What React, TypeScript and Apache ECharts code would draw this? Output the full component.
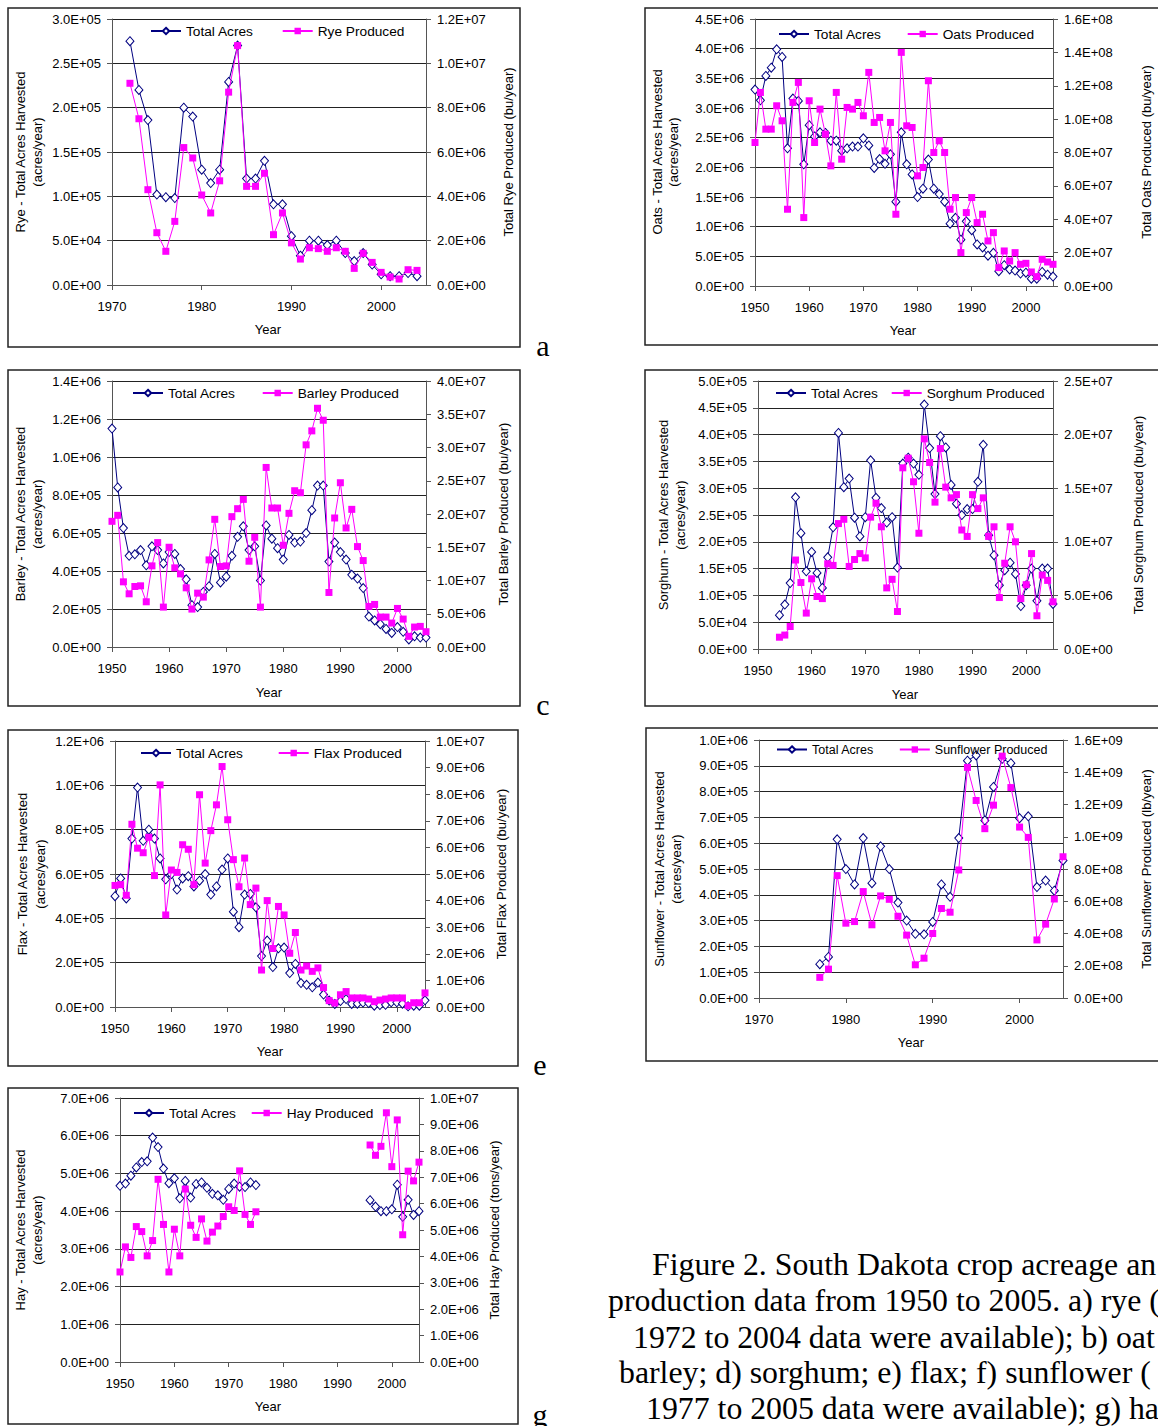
import React, { useEffect, useRef } from 'react';
import * as echarts from 'echarts';

const range = (a: number, b: number) => { const r: number[] = []; for (let i = a; i <= b; i++) r.push(i); return r; };

// a) Rye 1972-2004
const ryeYears = range(1972, 2004);
const ryeAcres = [275000, 220000, 186000, 102000, 99000, 98000, 200000, 190000, 130000, 115000, 130000, 229000, 270000, 120000, 120000, 140000, 91000, 91000, 55000, 33000, 50000, 50000, 45000, 50000, 36000, 27000, 36000, 23000, 12000, 10000, 10000, 13500, 10000];
const ryeProd = [9.1e6, 7.5e6, 4.3e6, 2.36e6, 1.52e6, 2.87e6, 6.2e6, 5.73e6, 4.06e6, 3.25e6, 4.7e6, 8.7e6, 1.08e7, 4.45e6, 4.45e6, 5.04e6, 2.27e6, 3.25e6, 1.9e6, 1.17e6, 1.68e6, 1.64e6, 1.52e6, 1.68e6, 1.52e6, 7.5e5, 1.43e6, 1.02e6, 5.7e5, 3.6e5, 2.7e5, 6.9e5, 6.6e5];

// b) Oats 1950-2005
const oatsYears = range(1950, 2005);
const oatsAcres = [3.31e6, 3.13e6, 3.54e6, 3.68e6, 3.99e6, 3.86e6, 2.32e6, 3.16e6, 3.12e6, 2.05e6,
  2.71e6, 2.52e6, 2.59e6, 2.58e6, 2.45e6, 2.45e6, 2.28e6, 2.32e6, 2.35e6, 2.35e6,
  2.49e6, 2.37e6, 1.99e6, 2.14e6, 2.06e6, 2.22e6, 1.42e6, 2.59e6, 2.05e6, 1.88e6,
  1.5e6, 1.64e6, 2.13e6, 1.64e6, 1.55e6, 1.42e6, 1.05e6, 1.15e6, 7.8e5, 1.09e6,
  9.4e5, 7.0e5, 6.5e5, 5.1e5, 5.6e5, 2.5e5, 3.5e5, 2.8e5, 2.6e5, 2.1e5,
  2.25e5, 1.24e5, 1.24e5, 2.36e5, 1.9e5, 1.6e5];
const oatsProd = [8.6e7, 1.16e8, 9.4e7, 9.4e7, 1.08e8, 9.9e7, 4.6e7, 1.1e8, 1.22e8, 4.1e7,
  1.11e8, 8.6e7, 1.06e8, 9.1e7, 7.2e7, 1.16e8, 7.6e7, 1.07e8, 1.06e8, 1.1e8,
  1.02e8, 1.28e8, 9.8e7, 1.01e8, 8.1e7, 9.8e7, 4.3e7, 1.4e8, 9.6e7, 9.5e7,
  6.6e7, 7.1e7, 1.23e8, 8.0e7, 8.7e7, 8.0e7, 4.6e7, 5.3e7, 2.0e7, 4.4e7,
  5.3e7, 3.8e7, 4.3e7, 2.7e7, 3.2e7, 1.1e7, 2.1e7, 1.5e7, 2.0e7, 1.3e7,
  1.36e7, 8.4e6, 5.6e6, 1.6e7, 1.44e7, 1.3e7];

// c) Barley 1950-2005
const barleyYears = range(1950, 2005);
const barleyAcres = [1.15e6, 8.4e5, 6.26e5, 4.8e5, 4.88e5, 5.1e5, 4.3e5, 5.3e5, 5.1e5, 4.4e5,
  5.0e5, 4.9e5, 4.1e5, 3.56e5, 2.2e5, 2.1e5, 2.9e5, 3.2e5, 4.9e5, 3.4e5,
  3.7e5, 4.8e5, 5.8e5, 6.35e5, 5.1e5, 5.3e5, 3.5e5, 6.4e5, 5.7e5, 5.2e5,
  4.6e5, 5.9e5, 5.5e5, 5.55e5, 6.0e5, 7.2e5, 8.5e5, 8.5e5, 4.5e5, 5.5e5,
  5.0e5, 4.6e5, 3.8e5, 3.6e5, 3.1e5, 1.6e5, 1.4e5, 1.2e5, 9.5e4, 7.4e4,
  1.05e5, 8.0e4, 4.0e4, 5.6e4, 5.0e4, 5.0e4];
const barleyProd = [1.89e7, 1.98e7, 9.8e6, 8.0e6, 9.1e6, 9.2e6, 6.8e6, 1.22e7, 1.57e7, 6.0e6,
  1.5e7, 1.19e7, 1.1e7, 8.9e6, 5.7e6, 8.1e6, 7.5e6, 1.31e7, 1.92e7, 1.21e7,
  1.22e7, 1.96e7, 2.08e7, 2.22e7, 1.29e7, 1.65e7, 6.0e6, 2.7e7, 2.09e7, 2.09e7,
  1.53e7, 2.01e7, 2.35e7, 2.32e7, 3.04e7, 3.25e7, 3.59e7, 3.41e7, 8.2e6, 1.94e7,
  2.47e7, 1.79e7, 2.07e7, 1.51e7, 1.3e7, 6.1e6, 6.4e6, 4.5e6, 4.5e6, 3.6e6,
  5.8e6, 4.2e6, 1.6e6, 3.0e6, 3.1e6, 2.3e6];

// d) Sorghum 1954-2005
const sorghumYears = range(1954, 2005);
const sorghumAcres = [6.3e4, 8.3e4, 1.23e5, 2.83e5, 2.16e5, 1.45e5,
  1.81e5, 1.42e5, 1.14e5, 1.71e5, 2.27e5, 4.03e5, 3.02e5, 3.18e5, 2.45e5, 2.1e5,
  2.46e5, 3.52e5, 2.82e5, 2.63e5, 2.36e5, 2.46e5, 1.52e5, 3.46e5, 3.57e5, 3.46e5,
  3.25e5, 4.56e5, 3.75e5, 2.89e5, 3.97e5, 3.76e5, 3.06e5, 2.71e5, 2.5e5, 2.61e5,
  2.61e5, 3.12e5, 3.81e5, 2.12e5, 1.75e5, 1.19e5, 1.47e5, 1.61e5, 1.4e5, 8.0e4,
  1.19e5, 1.5e5, 9.0e4, 1.5e5, 1.5e5, 8.4e4];
const sorghumProd = [1.1e6, 1.3e6, 2.1e6, 8.3e6, 6.2e6, 3.35e6,
  6.55e6, 4.9e6, 4.7e6, 7.95e6, 7.8e6, 1.17e7, 1.21e7, 7.7e6, 8.35e6, 8.9e6,
  8.5e6, 1.23e7, 1.36e7, 1.14e7, 5.7e6, 6.5e6, 3.5e6, 1.69e7, 1.78e7, 1.56e7,
  1.08e7, 1.96e7, 1.74e7, 1.37e7, 1.87e7, 1.51e7, 1.41e7, 1.44e7, 1.11e7, 1.05e7,
  1.44e7, 1.31e7, 1.41e7, 1.05e7, 1.14e7, 4.8e6, 8.0e6, 1.14e7, 1.0e7, 4.7e6,
  6.0e6, 8.9e6, 3.1e6, 6.9e6, 6.4e6, 4.4e6];

// e) Flax 1950-2005
const flaxYears = range(1950, 2005);
const flaxAcres = [5.0e5, 5.8e5, 4.9e5, 7.6e5, 9.9e5, 7.5e5, 8.0e5, 7.6e5, 6.7e5, 5.76e5,
  6.0e5, 5.3e5, 5.8e5, 5.9e5, 5.44e5, 5.7e5, 6.0e5, 5.07e5, 5.44e5, 6.2e5,
  6.7e5, 4.3e5, 3.6e5, 5.07e5, 5.1e5, 4.5e5, 2.3e5, 3.0e5, 1.8e5, 2.65e5,
  2.68e5, 1.53e5, 1.94e5, 1.08e5, 1.0e5, 8.9e4, 1.1e5, 5.6e4, 2.9e4, 1.4e4,
  2.7e4, 3.6e4, 1.4e4, 1.5e4, 2.0e4, 1.8e4, 6e3, 9e3, 1.0e4, 2.1e4,
  2.1e4, 1.5e4, 3e3, 6e3, 6e3, 3.0e4];
const flaxProd = [4.57e6, 4.6e6, 4.2e6, 6.87e6, 5.97e6, 5.8e6, 6.38e6, 4.94e6, 8.35e6, 3.46e6,
  5.15e6, 5.06e6, 6.1e6, 5.93e6, 4.6e6, 7.98e6, 5.41e6, 6.63e6, 7.6e6, 9.04e6,
  7.04e6, 5.54e6, 4.52e6, 5.6e6, 3.85e6, 4.47e6, 1.39e6, 4.0e6, 2.2e6, 3.78e6,
  3.46e6, 2.02e6, 2.8e6, 1.39e6, 1.54e6, 1.34e6, 1.47e6, 7.3e5, 2.4e5, 1.5e5,
  4.6e5, 5.8e5, 3.4e5, 3.4e5, 3.4e5, 3.0e5, 2.0e5, 2.6e5, 3.0e5, 3.4e5,
  3.4e5, 3.4e5, 5e4, 1.6e5, 1.6e5, 5.3e5];

// f) Sunflower 1977-2005
const sunYears = range(1977, 2005);
const sunAcres = [1.31e5, 1.59e5, 6.15e5, 5.0e5, 4.4e5, 6.2e5, 4.45e5, 5.88e5, 5.0e5, 3.7e5,
  3.0e5, 2.49e5, 2.47e5, 2.95e5, 4.4e5, 3.92e5, 6.2e5, 9.2e5, 9.4e5, 6.88e5,
  8.18e5, 9.27e5, 9.1e5, 6.97e5, 7.04e5, 4.3e5, 4.55e5, 4.16e5, 5.33e5];
const sunProd = [1.28e8, 1.79e8, 7.59e8, 4.64e8, 4.74e8, 6.6e8, 4.54e8, 6.33e8, 6.12e8, 5.07e8,
  3.9e8, 2.06e8, 2.47e8, 4.0e8, 5.55e8, 5.32e8, 7.94e8, 1.43e9, 1.225e9, 1.05e9,
  1.196e9, 1.5e9, 1.305e9, 1.06e9, 9.96e8, 3.6e8, 4.58e8, 6.14e8, 8.76e8];

// g) Hay 1950-1975 and 1996-2005
const hayYears = [...range(1950, 1975), ...range(1996, 2005)];
const hayAcres = [4.67e6, 4.73e6, 4.94e6, 5.16e6, 5.3e6, 5.32e6, 5.95e6, 5.7e6, 5.13e6, 4.74e6,
  4.87e6, 4.34e6, 4.8e6, 4.36e6, 4.72e6, 4.76e6, 4.62e6, 4.46e6, 4.42e6, 4.3e6,
  4.59e6, 4.73e6, 4.65e6, 4.64e6, 4.76e6, 4.69e6,
  4.29e6, 4.12e6, 4.0e6, 4.0e6, 4.05e6, 4.7e6, 3.85e6, 4.3e6, 3.9e6, 4.0e6];
const hayProd = [3.41e6, 4.36e6, 3.96e6, 5.13e6, 4.94e6, 4.02e6, 4.6e6, 6.92e6, 5.21e6, 3.41e6,
  5.03e6, 4.02e6, 6.55e6, 5.18e6, 4.72e6, 5.42e6, 4.58e6, 4.92e6, 5.15e6, 5.51e6,
  5.88e6, 5.74e6, 7.24e6, 5.59e6, 5.21e6, 5.69e6,
  8.22e6, 7.83e6, 8.17e6, 9.44e6, 7.4e6, 9.17e6, 4.82e6, 7.23e6, 6.86e6, 7.57e6];

// caption as visible in the reference (its right part lies outside the picture)
const captionLines = [
  'Figure 2. South Dakota crop acreage an',
  'production data from 1950 to 2005. a) rye (',
  '1972 to 2004 data were available); b) oat',
  'barley; d) sorghum; e) flax; f) sunflower (',
  '1977 to 2005 data were available); g) ha',
];

const SANS = '"Liberation Sans", Arial, sans-serif';
const SERIF = '"Liberation Serif", "Times New Roman", serif';

function fmtE(v: number): string {
  if (Math.abs(v) < 1e-9) return '0.0E+00';
  let e = Math.floor(Math.log10(v) + 1e-9);
  let ms = (v / Math.pow(10, e)).toFixed(1);
  if (ms === '10.0') { e += 1; ms = '1.0'; }
  return ms + 'E' + (e < 0 ? '-' : '+') + String(Math.abs(e)).padStart(2, '0');
}

function pts(years: number[], vals: number[]) {
  const out: any[] = [];
  for (let i = 0; i < years.length; i++) {
    if (i > 0 && years[i] - years[i - 1] > 1) out.push([(years[i] + years[i - 1]) / 2, '-']);
    out.push([years[i], vals[i]]);
  }
  return out;
}

const panels = [
  { grid: { left: 112, top: 19, width: 314, height: 266 }, x: [1970, 2005], yl: [3e5, 5e4], yr: [1.2e7, 2e6],
    years: ryeYears, acres: ryeAcres, prod: ryeProd, prodName: 'Rye Produced',
    lg: { left: 150, top: 24, gap: 28, size: 13.7 }, lt: ['Rye - Total Acres Harvested', '(acres/year)'], ltx: [20, 37], ty: 152,
    rt: 'Total Rye Produced (bu/year)', rtx: 508, yp: [268, 329], box: [8, 8, 512, 339], letter: { t: 'a', x: 543, y: 345 } },
  { grid: { left: 755, top: 19, width: 298, height: 267 }, x: [1950, 2005], yl: [4.5e6, 5e5], yr: [1.6e8, 2e7],
    years: oatsYears, acres: oatsAcres, prod: oatsProd, prodName: 'Oats Produced',
    lg: { left: 778, top: 27, gap: 25, size: 13.7 }, lt: ['Oats - Total Acres Harvested', '(acres/year)'], ltx: [657, 673], ty: 152,
    rt: 'Total Oats Produced (bu/year)', rtx: 1146, yp: [903, 330], box: [645, 8, 530, 337], letter: null },
  { grid: { left: 112, top: 381, width: 314, height: 266 }, x: [1950, 2005], yl: [1.4e6, 2e5], yr: [4e7, 5e6],
    years: barleyYears, acres: barleyAcres, prod: barleyProd, prodName: 'Barley Produced',
    lg: { left: 132, top: 386, gap: 26, size: 13.7 }, lt: ['Barley - Total Acres Harvested', '(acres/year)'], ltx: [20, 37], ty: 514,
    rt: 'Total Barley Produced (bu/year)', rtx: 503, yp: [269, 692], box: [8, 370, 512, 336], letter: { t: 'c', x: 543, y: 704 } },
  { grid: { left: 758, top: 381, width: 295, height: 268 }, x: [1950, 2005], yl: [5e5, 5e4], yr: [2.5e7, 5e6],
    years: sorghumYears, acres: sorghumAcres, prod: sorghumProd, prodName: 'Sorghum Produced',
    lg: { left: 775, top: 386, gap: 12, size: 13.7 }, lt: ['Sorghum - Total Acres Harvested', '(acres/year)'], ltx: [663, 680], ty: 515,
    rt: 'Total Sorghum Produced (bu/year)', rtx: 1138, yp: [905, 694], box: [645, 370, 530, 336], letter: null },
  { grid: { left: 115, top: 741, width: 310, height: 266 }, x: [1950, 2005], yl: [1.2e6, 2e5], yr: [1e7, 1e6],
    years: flaxYears, acres: flaxAcres, prod: flaxProd, prodName: 'Flax Produced',
    lg: { left: 140, top: 746, gap: 34, size: 13.7 }, lt: ['Flax - Total Acres Harvested', '(acres/year)'], ltx: [22, 40], ty: 874,
    rt: 'Total Flax Produced (bu/year)', rtx: 501, yp: [270, 1051], box: [8, 730, 510, 336], letter: { t: 'e', x: 540, y: 1064 } },
  { grid: { left: 759, top: 740, width: 304, height: 258 }, x: [1970, 2005], yl: [1e6, 1e5], yr: [1.6e9, 2e8],
    years: sunYears, acres: sunAcres, prod: sunProd, prodName: 'Sunflower Produced',
    lg: { left: 776, top: 743, gap: 25, size: 12.5 }, lt: ['Sunflower - Total Acres Harvested', '(acres/year)'], ltx: [659, 676], ty: 869,
    rt: 'Total Sunflower Produced (lb/year)', rtx: 1146, yp: [911, 1042], box: [646, 728, 530, 333], letter: null },
  { grid: { left: 120, top: 1098, width: 299, height: 264 }, x: [1950, 2005], yl: [7e6, 1e6], yr: [1e7, 1e6],
    years: hayYears, acres: hayAcres, prod: hayProd, prodName: 'Hay Produced',
    lg: { left: 133, top: 1106, gap: 14, size: 13.7 }, lt: ['Hay - Total Acres Harvested', '(acres/year)'], ltx: [20, 37], ty: 1230,
    rt: 'Total Hay Produced (tons/year)', rtx: 494, yp: [268, 1406], box: [8, 1088, 510, 336], letter: { t: 'g', x: 540, y: 1414 } },
];

const AX = '#555';

function buildOption() {
  const grid: any[] = [];
  const xAxis: any[] = [];
  const yAxis: any[] = [];
  const series: any[] = [];
  const legend: any[] = [];
  const graphic: any[] = [];
  const lbl = { fontSize: 13, color: '#000', fontFamily: SANS };

  panels.forEach((p, i) => {
    grid.push({ ...p.grid, containLabel: false });
    xAxis.push({
      type: 'value', gridIndex: i, min: p.x[0], max: p.x[1], interval: 10,
      axisLine: { show: true, onZero: false, lineStyle: { color: AX, width: 1 } },
      axisTick: { show: true, length: 5, lineStyle: { color: AX } },
      axisLabel: { ...lbl, margin: 15, showMaxLabel: false, formatter: (v: number) => (v % 10 === 0 ? String(v) : '') },
      splitLine: { show: false },
    });
    yAxis.push({
      type: 'value', gridIndex: i, position: 'left', min: 0, max: p.yl[0], interval: p.yl[1],
      axisLine: { show: true, lineStyle: { color: AX, width: 1 } },
      axisTick: { show: true, length: 5, lineStyle: { color: AX } },
      axisLabel: { ...lbl, margin: 11, formatter: fmtE },
      splitLine: { show: true, lineStyle: { color: '#222', width: 1 } },
    });
    yAxis.push({
      type: 'value', gridIndex: i, position: 'right', min: 0, max: p.yr[0], interval: p.yr[1],
      axisLine: { show: true, lineStyle: { color: AX, width: 1 } },
      axisTick: { show: true, length: 5, lineStyle: { color: AX } },
      axisLabel: { ...lbl, margin: 11, formatter: fmtE },
      splitLine: { show: false },
    });
    series.push({
      type: 'line', name: 'Total Acres', xAxisIndex: i, yAxisIndex: 2 * i,
      data: pts(p.years, p.acres), symbol: 'diamond', symbolSize: [8, 9], showAllSymbol: true,
      lineStyle: { color: '#000080', width: 1 },
      itemStyle: { color: '#ffffff', borderColor: '#000080', borderWidth: 1 },
      connectNulls: false, z: 3,
    });
    series.push({
      type: 'line', name: p.prodName, xAxisIndex: i, yAxisIndex: 2 * i + 1,
      data: pts(p.years, p.prod), symbol: 'rect', symbolSize: 7, showAllSymbol: true,
      lineStyle: { color: '#ff00ff', width: 1 },
      itemStyle: { color: '#ff00ff' },
      connectNulls: false, z: 4,
    });
    legend.push({
      left: p.lg.left, top: p.lg.top, itemGap: p.lg.gap, itemWidth: 30, itemHeight: 8, padding: 0,
      selectedMode: false, data: ['Total Acres', p.prodName],
      textStyle: { fontSize: p.lg.size, color: '#000', fontFamily: SANS },
    });
    const [bx, by, bw, bh] = p.box;
    graphic.push({ type: 'rect', shape: { x: bx, y: by, width: bw, height: bh }, style: { fill: 'none', stroke: '#222', lineWidth: 1.5 }, silent: true });
    p.lt.forEach((t, k) => {
      graphic.push({ type: 'text', x: p.ltx[k], y: p.ty, rotation: Math.PI / 2, style: { text: t, fill: '#000', font: `13px ${SANS}`, align: 'center', verticalAlign: 'middle' }, silent: true });
    });
    graphic.push({ type: 'text', x: p.rtx, y: p.ty, rotation: Math.PI / 2, style: { text: p.rt, fill: '#000', font: `13px ${SANS}`, align: 'center', verticalAlign: 'middle' }, silent: true });
    graphic.push({ type: 'text', x: p.yp[0], y: p.yp[1], style: { text: 'Year', fill: '#000', font: `13px ${SANS}`, align: 'center', verticalAlign: 'middle' }, silent: true });
    if (p.letter) {
      graphic.push({ type: 'text', x: p.letter.x, y: p.letter.y, style: { text: p.letter.t, fill: '#000', font: `30px ${SERIF}`, align: 'center', verticalAlign: 'middle' }, silent: true });
    }
  });

  const capX = [652, 608, 633, 619, 646];
  const capY = [1264, 1300, 1337, 1372, 1408];
  captionLines.forEach((t, k) => {
    graphic.push({ type: 'text', x: capX[k], y: capY[k], style: { text: t, fill: '#000', font: `31.8px ${SERIF}`, align: 'left', verticalAlign: 'middle' }, silent: true });
  });

  return { animation: false, backgroundColor: '#fff', grid, xAxis, yAxis, series, legend, graphic };
}

export default function App() {
  const ref = useRef<HTMLDivElement>(null);
  useEffect(() => {
    if (!ref.current) return;
    const chart = echarts.init(ref.current, undefined, { renderer: 'svg' });
    chart.setOption(buildOption() as any);
    return () => chart.dispose();
  }, []);
  return <div ref={ref} style={{ position: 'absolute', left: 0, top: 0, width: 1158, height: 1426, background: '#fff' }} />;
}
